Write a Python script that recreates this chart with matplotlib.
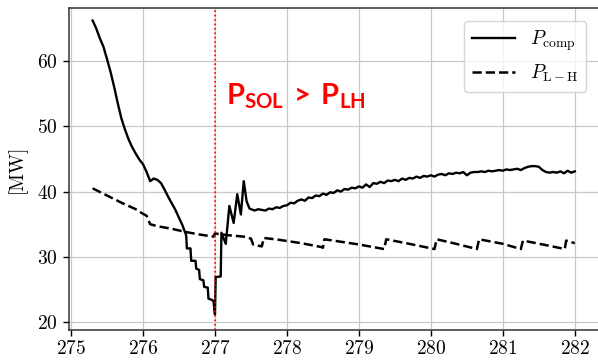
import matplotlib
matplotlib.use("Agg")
import matplotlib.pyplot as plt
import numpy as np

plt.rcParams['font.family'] = 'cmr10'
plt.rcParams['axes.formatter.use_mathtext'] = True
plt.rcParams['mathtext.fontset'] = 'cm'
plt.rcParams['mathtext.bf'] = 'Lato:bold'
plt.rcParams['mathtext.rm'] = 'Lato:bold'

# P_comp trace (time [s], power [MW])
t_comp = [275.30, 275.35, 275.40, 275.45, 275.50, 275.55, 275.60, 275.65, 275.70, 275.75,
          275.80, 275.85, 275.90, 275.95, 276.00, 276.05, 276.10, 276.15, 276.20, 276.25,
          276.30, 276.35, 276.40, 276.45, 276.50, 276.55, 276.60, 276.61, 276.66, 276.67,
          276.73, 276.74, 276.78, 276.79, 276.84, 276.85, 276.90, 276.91, 276.96, 276.98,
          277.00, 277.01, 277.08, 277.09, 277.15, 277.20, 277.26, 277.31, 277.36, 277.40,
          277.44, 277.48, 277.55, 277.60, 277.65, 277.70, 277.75, 277.80, 277.85, 277.90,
          277.95, 278.00, 278.05, 278.10, 278.15, 278.20, 278.25, 278.30, 278.35, 278.40,
          278.45, 278.50, 278.55, 278.60, 278.65, 278.70, 278.75, 278.80, 278.85, 278.90,
          278.95, 279.00, 279.05, 279.10, 279.15, 279.20, 279.25, 279.30, 279.35, 279.40,
          279.45, 279.50, 279.55, 279.60, 279.65, 279.70, 279.75, 279.80, 279.85, 279.90,
          279.95, 280.00, 280.05, 280.10, 280.15, 280.20, 280.25, 280.30, 280.35, 280.40,
          280.45, 280.50, 280.55, 280.60, 280.65, 280.70, 280.75, 280.80, 280.85, 280.90,
          280.95, 281.00, 281.05, 281.10, 281.15, 281.20, 281.25, 281.30, 281.35, 281.40,
          281.45, 281.50, 281.55, 281.60, 281.65, 281.70, 281.75, 281.80, 281.85, 281.90,
          281.95, 282.00]
p_comp = [66.2, 65.0, 63.5, 62.2, 60.3, 58.3, 56.0, 53.5, 51.2, 49.5,
          48.0, 46.8, 45.8, 44.9, 44.2, 43.0, 41.6, 42.0, 41.8, 41.3,
          40.3, 39.2, 38.2, 37.2, 36.0, 34.8, 33.3, 31.3, 31.3, 29.4,
          29.4, 28.2, 28.0, 26.6, 26.4, 25.4, 25.3, 23.6, 23.4, 23.2,
          21.2, 26.9, 27.0, 33.7, 32.0, 37.8, 35.2, 39.6, 36.5, 41.6,
          38.5, 37.4, 37.1, 37.3, 37.2, 37.1, 37.4, 37.3, 37.6, 37.5,
          37.8, 37.9, 38.3, 38.2, 38.6, 38.8, 38.6, 39.1, 39.0, 39.4,
          39.3, 39.7, 39.5, 39.9, 39.8, 40.2, 40.0, 40.4, 40.3, 40.6,
          40.5, 40.8, 40.6, 41.1, 40.7, 41.3, 41.2, 41.5, 41.3, 41.7,
          41.6, 41.8, 41.6, 42.0, 41.8, 42.1, 42.0, 42.3, 42.1, 42.4,
          42.3, 42.5, 42.3, 42.6, 42.7, 42.5, 42.8, 42.7, 42.9, 42.8,
          43.0, 42.5, 42.9, 43.0, 43.0, 43.1, 43.0, 43.2, 43.1, 43.2,
          43.3, 43.2, 43.4, 43.3, 43.4, 43.5, 43.3, 43.6, 43.8, 43.9,
          43.9, 43.8, 43.3, 43.0, 42.9, 43.0, 42.9, 43.1, 42.8, 43.2,
          42.9, 43.1]

# P_L-H threshold
t_lh = [275.30, 275.50, 275.70, 275.90, 276.00, 276.05, 276.10, 276.20, 276.40, 276.60,
        276.80, 276.98, 277.00, 277.05, 277.20, 277.40, 277.50, 277.53, 277.65, 277.68,
        277.90, 278.20, 278.48, 278.50, 278.52, 279.00, 279.35, 279.38, 279.70, 280.05,
        280.08, 280.35, 280.64, 280.67, 281.00, 281.25, 281.28, 281.60, 281.86, 281.88,
        282.00]
p_lh = [40.5, 39.4, 38.3, 37.3, 36.6, 36.3, 35.0, 34.7, 34.3, 33.8,
        33.4, 33.1, 33.6, 33.5, 33.3, 33.1, 32.8, 31.9, 31.6, 32.9,
        32.6, 32.1, 31.5, 31.4, 32.7, 31.9, 31.2, 32.7, 32.0, 31.2,
        32.7, 32.0, 31.2, 32.7, 32.0, 31.2, 32.5, 31.8, 31.2, 32.5,
        32.1]

t_transition = 277.0
xticks = [275, 276, 277, 278, 279, 280, 281, 282]
yticks = [20, 30, 40, 50, 60]

fig = plt.figure(figsize=(5.98, 3.63), dpi=100)
ax = fig.add_axes([68.5 / 598, 33 / 363, (600 - 68.5) / 598, (330 - 7.5) / 363])

ax.plot(t_comp, p_comp, color='black', lw=1.7, label=r'$P_{\mathrm{comp}}$')
ax.plot(t_lh, p_lh, color='black', lw=1.8, ls='--', label=r'$P_{\mathrm{L-H}}$')
ax.axvline(t_transition, color='red', ls=':', lw=1.2)

ax.set_xlim(274.965, 282.35)
ax.set_ylim(18.8, 68.2)
ax.set_xticks(xticks)
ax.set_yticks(yticks)
ax.tick_params(labelsize=14, direction='out', length=4, width=1)
ax.grid(True, color='#c8c8c8', lw=0.9)
ax.set_axisbelow(True)
ax.set_ylabel('[MW]', fontsize=14, labelpad=8)
for s in ax.spines.values():
    s.set_color('#333333')
    s.set_linewidth(1.1)

ax.text(277.16, 53.4, r'$\mathbf{P_{SOL}\,>\,P_{LH}}$', color='red', fontsize=21,
        math_fontfamily='custom', va='baseline', ha='left')

leg = ax.legend(loc='upper right', fontsize=14, borderaxespad=0.7, handlelength=2.2)
leg.get_frame().set_edgecolor('#cccccc')

plt.savefig('out.png', dpi=100)
